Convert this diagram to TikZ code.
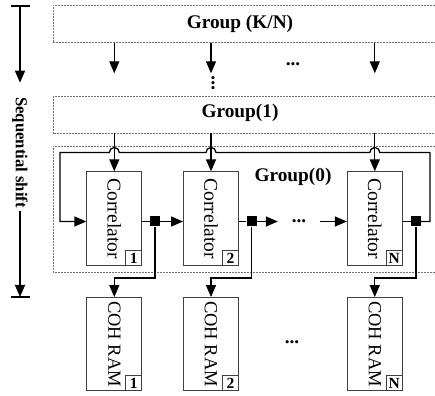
\documentclass[tikz,border=0pt]{standalone}
\usepackage{fontspec}
\setmainfont{Liberation Serif}
\usetikzlibrary{arrows.meta}

\begin{document}
\begin{tikzpicture}[x=1pt,y=1pt,>={Triangle[length=12pt,width=10pt]},
  wire/.style={line width=1.3pt},
  grp/.style={black!55,line width=0.8pt,dash pattern=on 2pt off 1pt},
  corr/.style={draw=black!75,line width=0.9pt,minimum width=55pt,
    minimum height=94pt,inner sep=0pt,font=\fontsize{19.5}{22}\selectfont},
  ram/.style={corr,minimum height=93pt,font=\fontsize{18.5}{22}\selectfont},
  num/.style={draw=black!75,fill=white,line width=0.9pt,minimum width=16pt,
    minimum height=15pt,inner sep=0pt,anchor=south east,
    font=\bfseries\fontsize{15.5}{15}\selectfont},
  sq/.style={fill=black,minimum size=10pt,inner sep=0pt},
  glbl/.style={font=\bfseries\fontsize{19.3}{22}\selectfont},
]
\useasboundingbox (0,0) rectangle (435,395);

% ============================================================
% Group boxes (open to the right)
% ============================================================
\draw[grp] (435,390) -- (53,390) -- (53,352.3) -- (435,352.3);
\draw[grp] (435,298.3) -- (53,298.3) -- (53,261.7) -- (435,261.7);
\draw[grp] (435,248.5) -- (53,248.5) -- (53,122.3) -- (435,122.3);
\coordinate (gKb) at (53,352.3);
\coordinate (g1b) at (53,261.7);

\node[glbl] (lblK) at (240,371) {Group (K/N)};
\node[glbl] (lbl1) at (240,282) {Group(1)};
\node[glbl] (lbl0) at (293,218) {Group(0)};

% ============================================================
% Correlators and COH RAMs
% ============================================================
\node[corr] (c1) at (114.3,176.2) {\rotatebox{-90}{Correlator}};
\node[corr] (c2) at (211,176.2) {\rotatebox{-90}{Correlator}};
\node[corr] (cN) at (374.8,176.2) {\rotatebox{-90}{Correlator}};
\node[num] (n1) at (c1.south east) {1};
\node[num] (n2) at (c2.south east) {2};
\node[num] (nN) at (cN.south east) {N};

\node[ram] (r1) at (114.3,51) {\rotatebox{-90}{COH RAM}};
\node[ram] (r2) at (211,51) {\rotatebox{-90}{COH RAM}};
\node[ram] (rN) at (374.8,51) {\rotatebox{-90}{COH RAM}};
\node[num] (m1) at (r1.south east) {1};
\node[num] (m2) at (r2.south east) {2};
\node[num] (mN) at (rN.south east) {N};

\node[glbl] (ramdots) at (292,53) {...};

% Output taps
\node[sq] (s1) at (155,173.5) {};
\node[sq] (s2) at (251.5,173.5) {};
\node[sq] (sN) at (416,173.5) {};

% ============================================================
% Arrows from Group(K/N)
% ============================================================
\draw[wire,->] (c1.north |- gKb) -- ++(0,-30.6);
\draw[wire,->] (c2.north |- gKb) -- ++(0,-30.6);
\draw[wire,->] (cN.north |- gKb) -- ++(0,-30.6);
\node[glbl] (topdots) at (293,331) {...};
\node[glbl,rotate=90] (vdots) at (213,312) {...};

% Feeds from Group(1)
\draw[wire,->] (c1.north |- g1b) -- (c1.north);
\draw[wire,->] (c2.north |- g1b) -- (c2.north);
\draw[wire,->] (cN.north |- g1b) -- (cN.north);

% ============================================================
% Shift chain
% ============================================================
\node[glbl,minimum width=42pt,inner sep=0pt] (rowdots) at (299,173.5) {...};
\draw[wire] (c1.east |- s1) -- (s1);
\draw[wire,->] (s1) -- (c2.west |- s1);
\draw[wire] (c2.east |- s2) -- (s2);
\draw[wire,->] (s2) -- (rowdots.west);
\draw[wire,->] (rowdots.east) -- (cN.west |- sN);
\draw[wire] (cN.east |- sN) -- (sN);

% Feedback with hops over the feeds
\coordinate (fbR) at (430,242.5);
\coordinate (fbL) at (60,242.5);
\coordinate (h1) at (c1.north |- fbR);
\coordinate (h2) at (c2.north |- fbR);
\coordinate (hN) at (cN.north |- fbR);
\draw[wire,->] (sN.east) -| (fbR)
  -- ([xshift=5pt]hN) arc[start angle=0,end angle=180,radius=5pt]
  -- ([xshift=5pt]h2) arc[start angle=0,end angle=180,radius=5pt]
  -- ([xshift=5pt]h1) arc[start angle=0,end angle=180,radius=5pt]
  -- (fbL) |- (c1.west |- s1);

% Taps to RAMs
\draw[wire,->] (s1) |- ([yshift=19pt]r1.north) -- (r1.north);
\draw[wire,->] (s2) |- ([yshift=19pt]r2.north) -- (r2.north);
\draw[wire,->] (sN) |- ([yshift=19pt]rN.north) -- (rN.north);

% ============================================================
% Sequential shift
% ============================================================
\coordinate (seqT) at (20,389);
\coordinate (seqB) at (20,98);
\node[font=\bfseries\fontsize{16.7}{20}\selectfont,rotate=-90] (seq)
  at (20,242.5) {Sequential shift};
\draw[wire] ([xshift=-9pt]seqT) -- ([xshift=10pt]seqT);
\draw[wire,->] (seqT) -- ++(0,-76.7);
\draw[wire,->] (seq.east) -- (seqB);
\draw[wire] ([xshift=-9pt]seqB) -- ([xshift=10pt]seqB);

\end{tikzpicture}
\end{document}
